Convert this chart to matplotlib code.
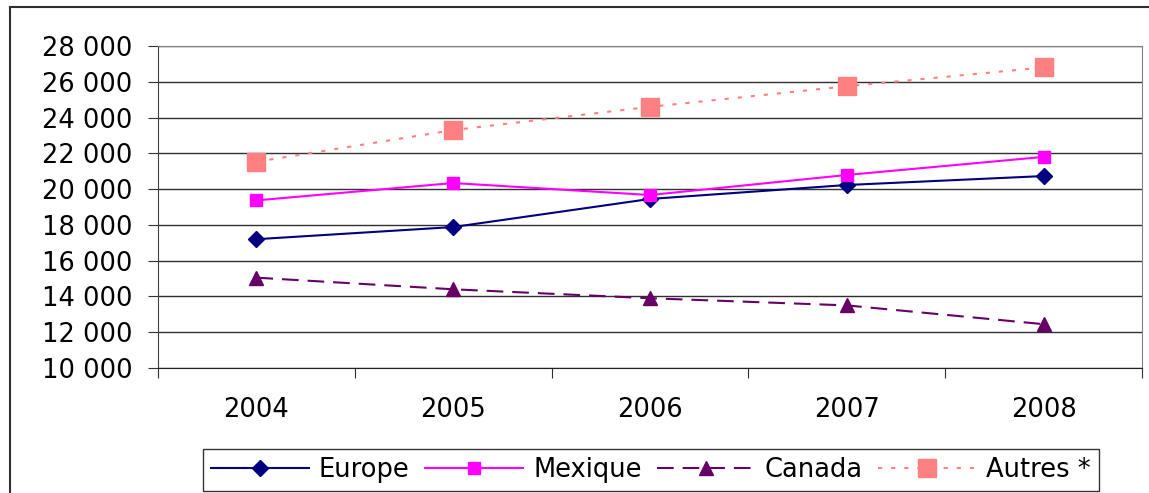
import matplotlib
matplotlib.use("Agg")
import matplotlib.pyplot as plt
from matplotlib.lines import Line2D

plt.rcParams['font.family'] = ['DejaVu Sans']

years = ["2004", "2005", "2006", "2007", "2008"]
europe = [17200, 17880, 19450, 20230, 20730]
mexique = [19370, 20340, 19670, 20790, 21800]
canada = [15050, 14400, 13900, 13500, 12450]
autres = [21530, 23300, 24600, 25750, 26800]
yticks = [10000, 12000, 14000, 16000, 18000, 20000, 22000, 24000, 26000, 28000]
ytick_labels = ["10 000", "12 000", "14 000", "16 000", "18 000", "20 000",
                "22 000", "24 000", "26 000", "28 000"]

W, H = 1149, 493
FS = 18.5
fig = plt.figure(figsize=(W / 100, H / 100), dpi=100)
ax = fig.add_axes([158 / W, 1 - 368 / H, (1142 - 158) / W, (368 - 46) / H])

x = list(range(len(years)))
ax.plot(x, europe, color='#000080', lw=1.5, marker='D', markersize=8,
        label='Europe', zorder=4)
ax.plot(x, mexique, color='#FF00FF', lw=1.5, marker='s', markersize=8.5,
        label='Mexique', zorder=4)
ax.plot(x, canada, color='#660066', lw=1.5, ls=(0, (8, 4.3)), marker='^',
        markersize=10, label='Canada', zorder=4)
ax.plot(x, autres, color='#FF8080', lw=1.5, ls=(0, (2, 4.3)), marker='s',
        markersize=13, label='Autres *', zorder=3)

ax.set_ylim(10000, 28000)
ax.set_xlim(-0.5, len(years) - 0.5)
ax.set_yticks(yticks)
ax.set_yticklabels(ytick_labels, fontsize=FS)
ax.yaxis.grid(True, color='#303030', lw=1.0)
ax.set_axisbelow(True)

ax.set_xticks([i - 0.5 for i in range(len(years) + 1)])
ax.set_xticklabels([])
ax.set_xticks(x, minor=True)
ax.set_xticklabels(years, minor=True, fontsize=FS)
ax.tick_params(axis='x', which='minor', length=0, pad=21)
ax.tick_params(axis='x', which='major', length=7, direction='out', color='#303030')
ax.tick_params(axis='y', length=7.5, direction='out', pad=11, color='#303030')

for s in ['top', 'right']:
    ax.spines[s].set_color('#808080')
ax.spines['left'].set_color('#404040')
ax.spines['bottom'].set_color('#202020')

# outer chart border (left and top edges visible)
fig.add_artist(Line2D([10 / W, 10 / W], [0, 1 - 7 / H], transform=fig.transFigure,
                      color='#303030', lw=1.5))
fig.add_artist(Line2D([10 / W, 1], [1 - 7 / H, 1 - 7 / H], transform=fig.transFigure,
                      color='#303030', lw=1.5))

leg = fig.legend(loc='center', bbox_to_anchor=(651 / W, 1 - 470 / H), ncol=4,
                 fontsize=FS, frameon=True, fancybox=False, edgecolor='black',
                 handlelength=3.8, handletextpad=0.4, columnspacing=0.6,
                 borderpad=0.3, borderaxespad=0)
leg.get_frame().set_linewidth(1.0)

fig.savefig('out.png', dpi=100)
